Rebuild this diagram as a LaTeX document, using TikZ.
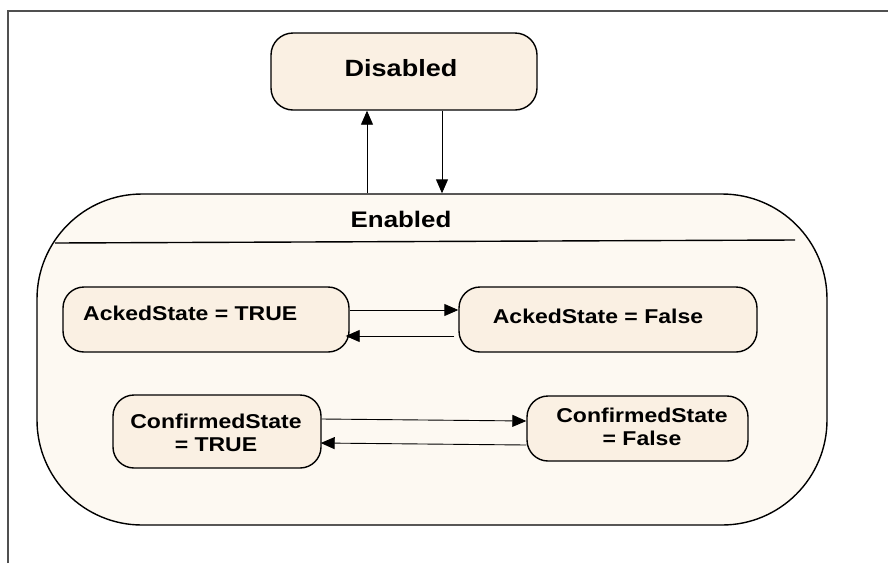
\documentclass[tikz,border=0pt]{standalone}
\usepackage{fontspec}
\newfontfamily\lab{Liberation Sans}[FakeStretch=1.15]
\usetikzlibrary{arrows.meta,calc}
\definecolor{innerfill}{HTML}{FAF0E3}
\definecolor{outerfill}{HTML}{FDF9F2}
\definecolor{framecol}{HTML}{505050}
\tikzset{
  statebox/.style={draw=black, line width=1.4pt, fill=innerfill, rounded corners=#1, inner sep=0pt},
  statebox/.default=21pt,
  txt/.style={font=\lab\bfseries\fontsize{20}{23}\selectfont, align=center, inner sep=0pt},
  arr/.style={draw=black, line width=0.9pt, -{Triangle[length=14pt,width=12pt]}}
}
\begin{document}
\begin{tikzpicture}[x=1pt,y=-1pt]
\useasboundingbox (0,0) rectangle (888,563);
% frame
\draw[framecol, line width=1.6pt] (8,563) -- (8,11) -- (888,11);
% Enabled superstate
\node[statebox=105pt, fill=outerfill, minimum width=790pt, minimum height=331pt] (enabled) at (432,359.5) {};
\draw[black, line width=1.4pt] (55,243) -- (795,240);
\node[txt, font=\lab\bfseries\fontsize{22.5}{26}\selectfont] (enabledlbl) at (401,219) {Enabled};
% Disabled
\node[statebox=22pt, minimum width=266pt, minimum height=77pt] (disabled) at (404,71.5) {};
\node[txt, font=\lab\bfseries\fontsize{23.5}{26}\selectfont] (disabledlbl) at (401,68) {Disabled};
% Acked states
\node[statebox, minimum width=286pt, minimum height=65pt] (ackT) at (206,319.5) {};
\node[txt, anchor=west] (ackTlbl) at (83,313) {AckedState = TRUE};
\node[statebox, minimum width=298pt, minimum height=65pt] (ackF) at (608,319.5) {};
\node[txt] (ackFlbl) at (598,316) {AckedState = False};
% Confirmed states
\node[statebox, minimum width=208pt, minimum height=73pt] (confT) at (217,431.5) {};
\node[txt] (confTlbl) at (216,433) {ConfirmedState\\= TRUE};
\node[statebox, minimum width=221pt, minimum height=65pt] (confF) at (637.5,428.5) {};
\node[txt] (confFlbl) at (642,427) {ConfirmedState\\= False};
% transitions
\coordinate (upx) at (367,0);
\coordinate (dnx) at (442,0);
\draw[arr] (upx |- enabled.north) -- (upx |- disabled.south);
\draw[arr] (dnx |- disabled.south) -- (dnx |- enabled.north);
\draw[arr] (ackT.east |- 0,310) -- (ackF.west |- 0,310);
\draw[arr] ([xshift=-4pt]ackF.west |- 0,336) -- ([xshift=-4pt]ackT.east |- 0,336);
\draw[arr] (confT.east |- 0,419) -- (confF.west |- 0,421);
\draw[arr] (confF.west |- 0,445) -- ([xshift=-1pt]confT.east |- 0,443);
\end{tikzpicture}
\end{document}
